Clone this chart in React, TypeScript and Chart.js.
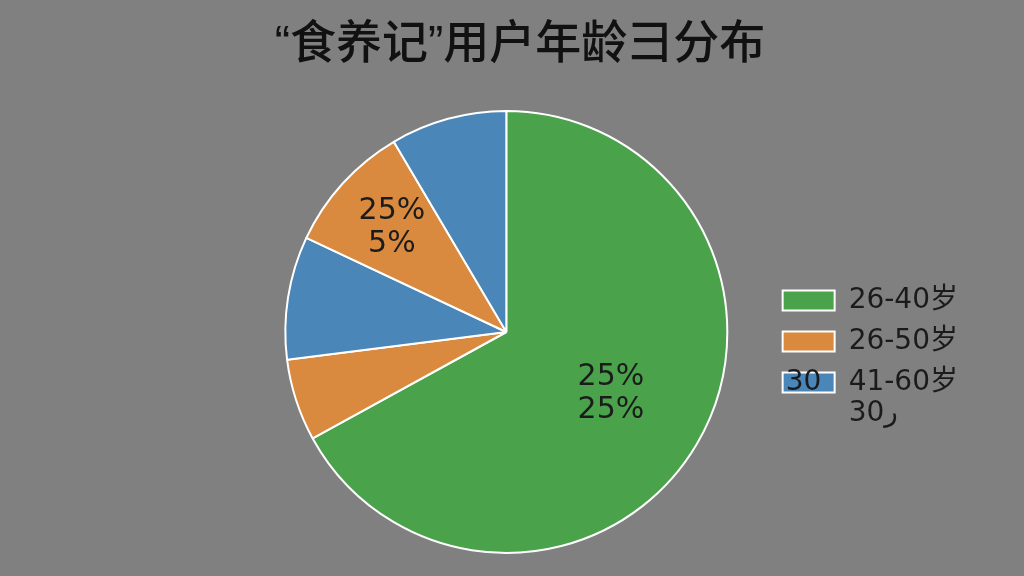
import React, { useEffect, useRef } from "react";
import { Chart, registerables } from "chart.js";

Chart.register(...registerables);

const titleText = "“食养记”用户年龄彐分布";
const sliceCategories = ["26-40岁", "26-50岁", "41-60岁", "26-50岁", "41-60岁"];
const sliceValues = [67, 6, 9, 9.5, 8.5];
const sliceLabels = ["25%\n25%", "", "", "25%\n5%", ""];
const legendArtifacts = ["30", "30ر"];

const GREEN = "#4aa24b";
const ORANGE = "#d98a3e";
const BLUE = "#4a86b7";
const sliceColors = [GREEN, ORANGE, BLUE, ORANGE, BLUE];

const LEGEND_FONT = 28;

const sliceLabelPlugin = {
  id: "sliceLabelPlugin",
  afterDatasetsDraw(chart: any, _args: any, opts: any) {
    const ctx = chart.ctx;
    const meta = chart.getDatasetMeta(0);
    ctx.save();
    ctx.fillStyle = "#1b1b1b";
    ctx.font = "30px 'DejaVu Sans'";
    ctx.textAlign = "center";
    ctx.textBaseline = "middle";
    meta.data.forEach((arc: any, i: number) => {
      const text = sliceLabels[i];
      if (!text) return;
      const p = arc.getProps(["x", "y", "startAngle", "endAngle", "outerRadius"], true);
      const mid = (p.startAngle + p.endAngle) / 2;
      const f = (opts.factors && opts.factors[i]) || 0.6;
      const cx = p.x + Math.cos(mid) * p.outerRadius * f;
      const cy = p.y + Math.sin(mid) * p.outerRadius * f;
      const lines = text.split("\n");
      const lh = 33;
      lines.forEach((ln: string, k: number) => {
        ctx.fillText(ln, cx, cy + (k - (lines.length - 1) / 2) * lh);
      });
    });
    ctx.restore();
  },
  afterDraw(chart: any, _args: any, opts: any) {
    const ctx = chart.ctx;
    ctx.save();
    // chart title
    ctx.fillStyle = "#111111";
    ctx.font = "500 46px 'Liberation Sans', 'Noto Sans CJK SC'";
    ctx.textAlign = "center";
    ctx.textBaseline = "middle";
    ctx.fillText(titleText, chart.width / 2 + opts.titleShift, opts.titleY);
    // stray legend text
    const legend = chart.legend;
    if (legend && legend.legendHitBoxes && legend.legendHitBoxes.length >= 3) {
      const hb = legend.legendHitBoxes[2];
      ctx.fillStyle = "#1b1b1b";
      ctx.font = LEGEND_FONT + "px 'DejaVu Sans'";
      ctx.textBaseline = "middle";
      ctx.textAlign = "left";
      const midY = hb.top + LEGEND_FONT / 2;
      ctx.fillText(legendArtifacts[0], hb.left + 3, midY);
      ctx.fillText(legendArtifacts[1], hb.left + 52 + LEGEND_FONT / 2, midY + 31);
    }
    ctx.restore();
  },
};

export default function App() {
  const ref = useRef<HTMLCanvasElement | null>(null);
  useEffect(() => {
    if (!ref.current) return;
    const chart = new Chart(ref.current, {
      type: "pie",
      data: {
        labels: sliceCategories,
        datasets: [
          {
            data: sliceValues,
            backgroundColor: sliceColors,
            borderColor: "#ffffff",
            borderWidth: 2,
          },
        ],
      },
      options: {
        animation: false,
        responsive: false,
        maintainAspectRatio: false,
        layout: { padding: { left: 243, right: 56, top: 110, bottom: 22 } },
        plugins: {
          title: { display: false },
          legend: {
            display: true,
            position: "right",
            title: { display: true, text: " ", font: { size: 10 }, padding: { top: 3.5, bottom: 3.5 } },
            labels: {
              color: "#1b1b1b",
              boxWidth: 52,
              boxHeight: 20,
              padding: 13,
              font: { family: "'DejaVu Sans', 'Noto Sans CJK SC'", size: LEGEND_FONT },
              filter: (item: any) => item.index < 3,
            },
          },
          tooltip: { enabled: false },
          sliceLabelPlugin: { factors: [0.55, 0.6, 0.6, 0.7, 0.6], titleShift: 8, titleY: 45 },
        } as any,
      },
      plugins: [sliceLabelPlugin],
    });
    return () => chart.destroy();
  }, []);
  return (
    <div style={{ position: "fixed", left: 0, top: 0, width: 1024, height: 576, background: "#808080" }}>
      <canvas ref={ref} width={1024} height={576} style={{ width: 1024, height: 576, display: "block" }} />
    </div>
  );
}
